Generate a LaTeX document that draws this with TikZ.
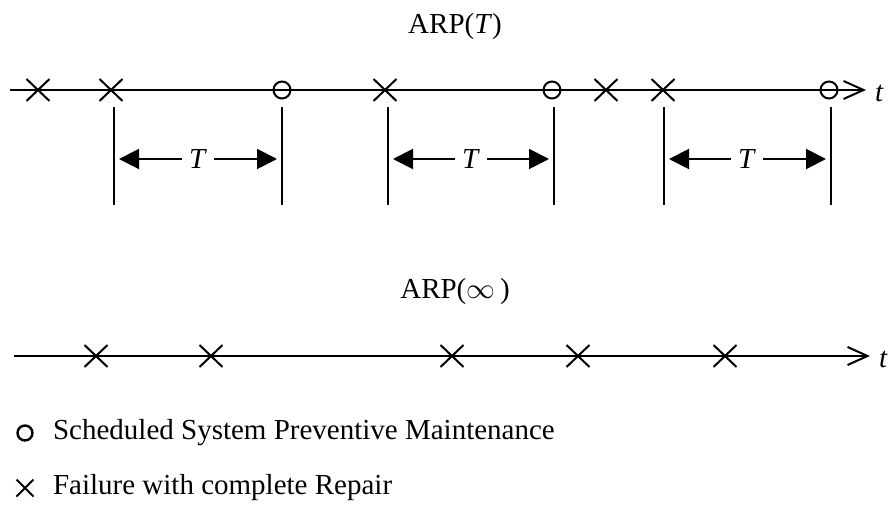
\documentclass[tikz,border=0pt]{standalone}
\usepackage{fontspec}
\setmainfont{Liberation Serif}
\usetikzlibrary{shapes.misc, arrows.meta}
\tikzstyle{fail} = [cross out, draw=black, line width=1pt, minimum width=10.5pt, minimum height=10pt, inner sep=0pt]
\tikzstyle{maint} = [circle, draw=black, line width=1pt, minimum size=8.5pt, inner sep=0pt]
\tikzstyle{timeline} = [line width=1.2pt, -{Straight Barb[length=10pt, width=9pt, line width=1pt]}]
\tikzstyle{bound} = [line width=1pt]
\tikzstyle{spanarrow} = [line width=1pt, -{Triangle[length=10pt, width=10pt]}, shorten >=2.5pt]
\begin{document}
\begin{tikzpicture}[x=0.5pt, y=-0.5pt, every node/.style={font=\fontsize{14.5}{17}\selectfont}]
    \useasboundingbox (0,0) rectangle (894,518);

    % ARP(T)
    \node (arpT) at (455,27) {ARP(\textit{T})};
    \coordinate (topstart) at (10,90);
    \coordinate (topend) at (866,90);
    \node (topt) [anchor=west] at (868,93) {\textit{t}};
    \draw [timeline] (topstart) -- (topend);
    \node (tf1) [fail] at (38,90) {};
    \node (tf2) [fail] at (111,90) {};
    \node (tf3) [fail] at (385,90) {};
    \node (tf4) [fail] at (606,90) {};
    \node (tf5) [fail] at (663,90) {};
    \node (pm1) [maint] at (282,90) {};
    \node (pm2) [maint] at (552,90) {};
    \node (pm3) [maint] at (829,90) {};

    % Bounds of the intervals
    \coordinate (b1u) at (114,107); \coordinate (b1d) at (114,205);
    \coordinate (b2u) at (282,107); \coordinate (b2d) at (282,205);
    \coordinate (b3u) at (388,107); \coordinate (b3d) at (388,205);
    \coordinate (b4u) at (554,107); \coordinate (b4d) at (554,205);
    \coordinate (b5u) at (664,107); \coordinate (b5d) at (664,205);
    \coordinate (b6u) at (831,107); \coordinate (b6d) at (831,205);
    \draw [bound] (b1u) -- (b1d);
    \draw [bound] (b2u) -- (b2d);
    \draw [bound] (b3u) -- (b3d);
    \draw [bound] (b4u) -- (b4d);
    \draw [bound] (b5u) -- (b5d);
    \draw [bound] (b6u) -- (b6d);
    \node (T1) at (198,159) {\textit{T}};
    \node (T2) at (471,159) {\textit{T}};
    \node (T3) at (747,159) {\textit{T}};
    \draw [spanarrow] (T1) -- (b1u |- T1);
    \draw [spanarrow] (T1) -- (b2u |- T1);
    \draw [spanarrow] (T2) -- (b3u |- T2);
    \draw [spanarrow] (T2) -- (b4u |- T2);
    \draw [spanarrow] (T3) -- (b5u |- T3);
    \draw [spanarrow] (T3) -- (b6u |- T3);

    % ARP(infinity)
    \node (arpInf) at (455,292) {ARP($\infty$\,)};
    \coordinate (botstart) at (14,356);
    \coordinate (botend) at (870,356);
    \node (bott) [anchor=west] at (872,359) {\textit{t}};
    \draw [timeline] (botstart) -- (botend);
    \node (bf1) [fail] at (96,356) {};
    \node (bf2) [fail] at (211,356) {};
    \node (bf3) [fail] at (452,356) {};
    \node (bf4) [fail] at (578,356) {};
    \node (bf5) [fail] at (725,356) {};

    % Legend
    \node (keyPm) [circle, draw=black, line width=1.2pt, minimum size=7.5pt, inner sep=0pt] at (25,433) {};
    \node (keyPmText) [anchor=west] at (46,433) {Scheduled System Preventive Maintenance};
    \node (keyFail) [cross out, draw=black, line width=1pt, minimum size=7.5pt, inner sep=0pt] at (25,488) {};
    \node (keyFailText) [anchor=west] at (46,488) {Failure with complete Repair};

\end{tikzpicture}
\end{document}
